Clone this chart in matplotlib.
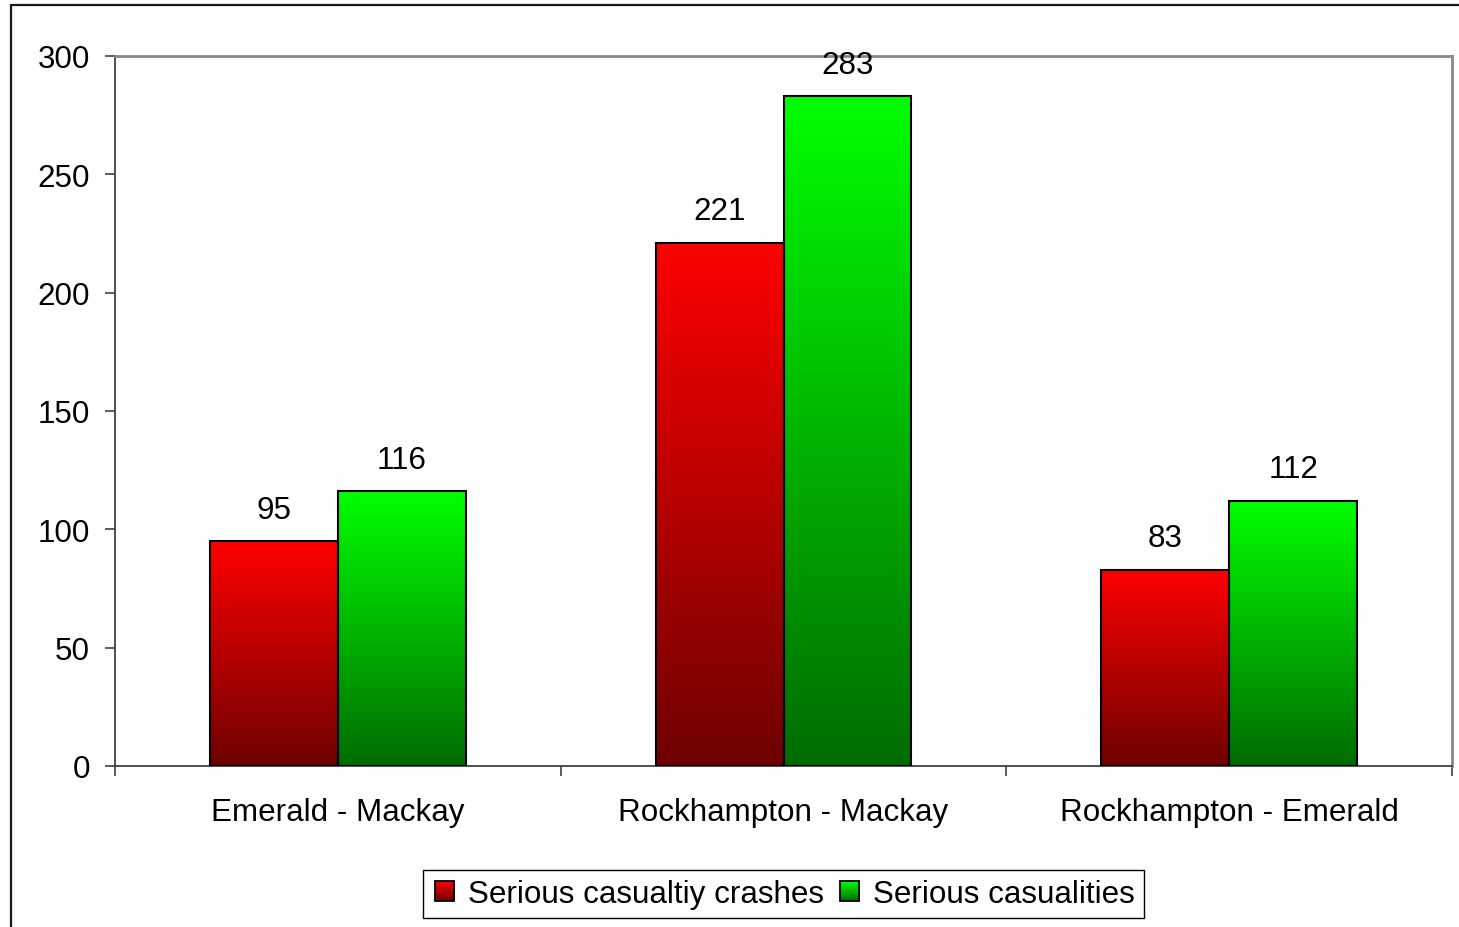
#!/usr/bin/env python3
"""Serious casualty crashes vs serious casualties by route, Excel-style gradient bars."""

import matplotlib
matplotlib.use("Agg")
import matplotlib.pyplot as plt
import numpy as np
from matplotlib.colors import LinearSegmentedColormap
from matplotlib.image import BboxImage
from matplotlib.legend_handler import HandlerBase
from matplotlib.patches import Patch, Rectangle
from matplotlib.transforms import Bbox, TransformedBbox

routes = ["Emerald - Mackay", "Rockhampton - Mackay", "Rockhampton - Emerald"]
crashes = [95, 221, 83]
casualties = [116, 283, 112]
series_names = ["Serious casualtiy crashes", "Serious casualities"]
y_ticks = [0, 50, 100, 150, 200, 250, 300]

red_cmap = LinearSegmentedColormap.from_list("reds", ["#6e0000", "#ff0000"])
green_cmap = LinearSegmentedColormap.from_list("greens", ["#006c00", "#00ff00"])

plt.rcParams["font.family"] = ["Liberation Sans", "DejaVu Sans"]
FS = 22.6


class GradientSquare(HandlerBase):
    """Legend key: small square filled with a vertical gradient."""

    def __init__(self, cmap):
        super().__init__()
        self.cmap = cmap

    def create_artists(self, legend, orig_handle, xdescent, ydescent,
                       width, height, fontsize, trans):
        size = height * 0.8
        x0 = -xdescent + (width - size) / 2
        y0 = -ydescent + (height - size) / 2
        bbox = TransformedBbox(Bbox.from_bounds(x0, y0, size, size), trans)
        img = BboxImage(bbox, cmap=self.cmap, interpolation="bilinear")
        img.set_data(np.linspace(1, 0, 64).reshape(-1, 1))
        rect = Rectangle((x0, y0), size, size, facecolor="none",
                         edgecolor="black", lw=1.3, transform=trans)
        return [img, rect]


def gradient_bars(ax, xs, heights, width, cmap):
    grad = np.linspace(1, 0, 256).reshape(-1, 1)
    for x, h in zip(xs, heights):
        ax.imshow(grad, cmap=cmap, extent=(x - width / 2, x + width / 2, 0, h),
                  aspect="auto", interpolation="bilinear", zorder=2)
    ax.bar(xs, heights, width, facecolor="none", edgecolor="black",
           linewidth=1.5, zorder=3)
    for x, h in zip(xs, heights):
        ax.annotate(f"{h}", (x, h), xytext=(0, 17), textcoords="offset points",
                    ha="center", va="baseline", fontsize=FS, color="black")


fig = plt.figure(figsize=(14.59, 9.28), dpi=100)
ax = fig.add_axes([115 / 1459, 1 - 767 / 928, (1452 - 115) / 1459, (767 - 57) / 928])

# outer chart border (left and top edges visible)
fig.patches.append(Rectangle((11 / 1459, -0.1), 1.2, 1.1 - 6 / 928,
                             transform=fig.transFigure, facecolor="none",
                             edgecolor="#1a1a1a", lw=1.6, zorder=0))

x = np.arange(len(routes))
w = 0.287
gradient_bars(ax, x - w / 2, crashes, w, red_cmap)
gradient_bars(ax, x + w / 2, casualties, w, green_cmap)

ax.set_xlim(-0.5, len(routes) - 0.5)
ax.set_ylim(0, 300)
ax.set_yticks(y_ticks)
ax.tick_params(axis="y", direction="out", length=7, width=1.2, color="#404040",
               labelsize=FS, pad=11)
ax.set_xticks(x)
ax.set_xticklabels(routes)
ax.tick_params(axis="x", which="major", length=0, labelsize=FS, pad=22)
ax.set_xticks(np.arange(len(routes) + 1) - 0.5, minor=True)
ax.tick_params(axis="x", which="minor", direction="out", length=7, width=1.2,
               color="#404040")

for side in ("left", "bottom"):
    ax.spines[side].set_color("#404040")
    ax.spines[side].set_linewidth(1.3)
for side in ("top", "right"):
    ax.spines[side].set_color("#888888")
    ax.spines[side].set_linewidth(2)

handles = [Patch(label=series_names[0]), Patch(label=series_names[1])]
leg = ax.legend(handles=handles, loc="center",
                bbox_to_anchor=(783.5 / 1459, 1 - 895 / 928),
                bbox_transform=fig.transFigure, ncol=2, fontsize=FS,
                frameon=True, fancybox=False, shadow=False, framealpha=1,
                edgecolor="black", handlelength=0.8, handleheight=0.8,
                handletextpad=0.35, columnspacing=0.4, borderpad=0.3,
                handler_map={handles[0]: GradientSquare(red_cmap),
                             handles[1]: GradientSquare(green_cmap)})
leg.get_frame().set_linewidth(1.0)

fig.savefig("out.png", dpi=100)
